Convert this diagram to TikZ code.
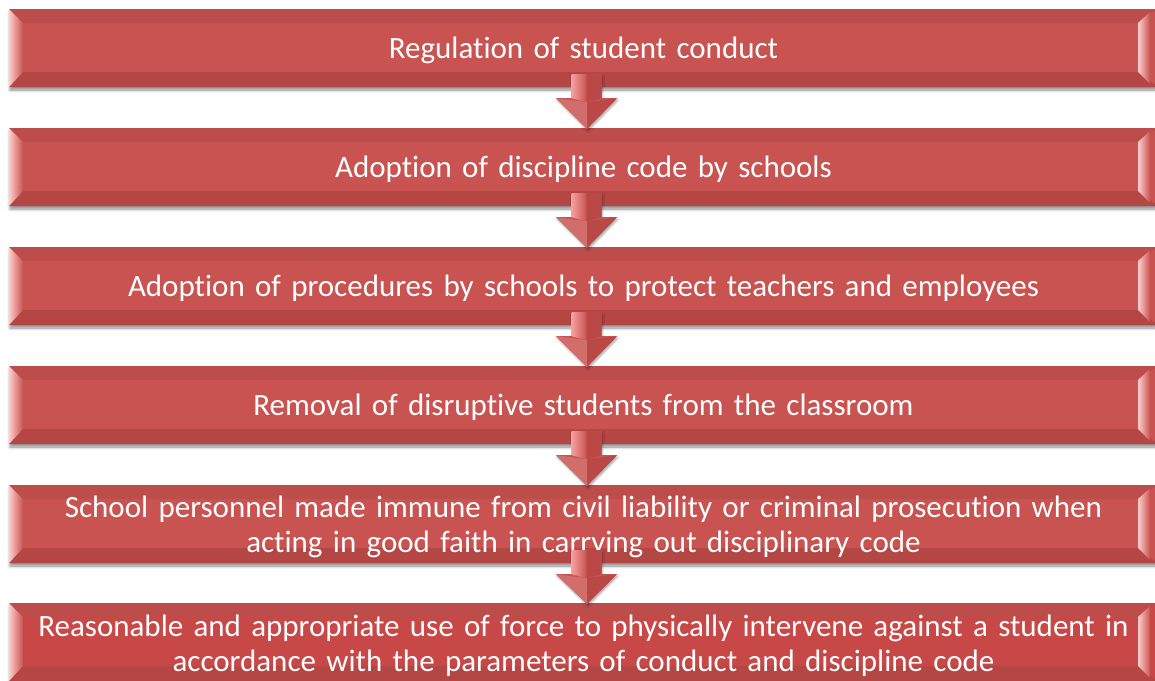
\documentclass[tikz,border=0pt]{standalone}
\usepackage{fontspec}
\setmainfont[Ligatures={NoCommon}]{Carlito}
\usetikzlibrary{calc,shadows,shadows.blur,fadings}
\definecolor{face}{RGB}{201,83,80}
\definecolor{facesix}{RGB}{199,72,70}
\definecolor{topb}{RGB}{189,77,75}
\definecolor{botb}{RGB}{180,70,68}
\definecolor{hl}{RGB}{255,205,203}
\definecolor{hlarrow}{RGB}{245,160,158}
\definecolor{darkarrow}{RGB}{186,72,70}
\tikzset{
  topbevel/.style={fill=topb},
  botbevel/.style={fill=botb},
  sidebevel/.style={left color=hl, right color=face},
  stepbox/.style={rectangle, fill=face, minimum width=1149pt, minimum height=78pt,
    inner sep=0pt, text=white, font=\fontsize{31}{35}\selectfont, align=center,
    text width=1130pt,
    blur shadow={shadow xshift=1pt, shadow yshift=-3pt, shadow blur radius=3pt, shadow opacity=45},
    path picture={
      \coordinate (NW) at (path picture bounding box.north west);
      \coordinate (NE) at (path picture bounding box.north east);
      \coordinate (SW) at (path picture bounding box.south west);
      \coordinate (SE) at (path picture bounding box.south east);
      \fill[topbevel] (NW) -- (NE) -- ($(NE)+(-20,14)$) -- ($(NW)+(14,14)$) -- cycle;
      \fill[botbevel] (SW) -- (SE) -- ($(SE)+(-20,-15)$) -- ($(SW)+(14,-15)$) -- cycle;
      \shade[sidebevel] (NW) -- ($(NW)+(14,14)$) -- ($(SW)+(14,-15)$) -- (SW) -- cycle;
      \shade[sidebevel] ($(NE)+(-20,14)$) -- ($(NE)+(-8,3)$) -- ($(SE)+(-8,-3)$) -- ($(SE)+(-20,-15)$) -- cycle;
    }},
  singlebox/.style={stepbox, text depth=0pt},
  arrowbody/.style={fill=face, blur shadow={shadow xshift=1pt, shadow yshift=-2pt, shadow blur radius=2pt, shadow opacity=35}},
  arrowlight/.style={left color=hlarrow, right color=face},
  arrowdark/.style={fill=darkarrow},
}
\newcommand\blockarrow[2]{%
  \path[arrowbody] ($(#1.south)+(-12,-13)$) -- ($(#1.south)+(18,-13)$) -- ($(#1.south)+(18,11)$)
    -- ($(#1.south)+(33.5,11)$) -- ($(#2.north)+(3.5,1)$) -- ($(#1.south)+(-27.5,11)$)
    -- ($(#1.south)+(-12,11)$) -- cycle;
  \shade[arrowlight] ($(#1.south)+(-12,-13)$) -- ($(#1.south)+(3,-13)$) -- ($(#1.south)+(3,15)$) -- ($(#1.south)+(-12,11)$) -- cycle;
  \fill[arrowdark] ($(#1.south)+(3,-13)$) -- ($(#1.south)+(18,-13)$) -- ($(#1.south)+(18,11)$) -- ($(#1.south)+(3,15)$) -- cycle;
  \fill[arrowdark] ($(#1.south)+(3.5,15)$) -- ($(#1.south)+(33.5,11)$) -- ($(#2.north)+(3.5,1)$) -- cycle;
  \fill[face!85!white] ($(#1.south)+(3.5,15)$) -- ($(#1.south)+(-27.5,11)$) -- ($(#2.north)+(3.5,1)$) -- cycle;
}
\begin{document}
\begin{tikzpicture}[x=1pt,y=-1pt]
\useasboundingbox (0,0) rectangle (1155,680);
\node[singlebox] (b1) at (583.5,48) {Regulation of student conduct};
\node[singlebox] (b2) at (583.5,167) {Adoption of discipline code by schools};
\node[singlebox] (b3) at (583.5,286) {Adoption of procedures by schools to protect teachers and employees};
\node[singlebox] (b4) at (583.5,405) {Removal of disruptive students from the classroom};
\node[stepbox] (b5) at (583.5,524) {\rule{0pt}{28pt}School personnel made immune from civil liability or criminal prosecution when\\acting in good faith in carrying out disciplinary code};
\node[stepbox, fill=facesix] (b6) at (583.5,642) {\rule{0pt}{28pt}Reasonable and appropriate use of force to physically intervene against a student in\\accordance with the parameters of conduct and discipline code};
\blockarrow{b1}{b2}
\blockarrow{b2}{b3}
\blockarrow{b3}{b4}
\blockarrow{b4}{b5}
\blockarrow{b5}{b6}
\end{tikzpicture}
\end{document}
